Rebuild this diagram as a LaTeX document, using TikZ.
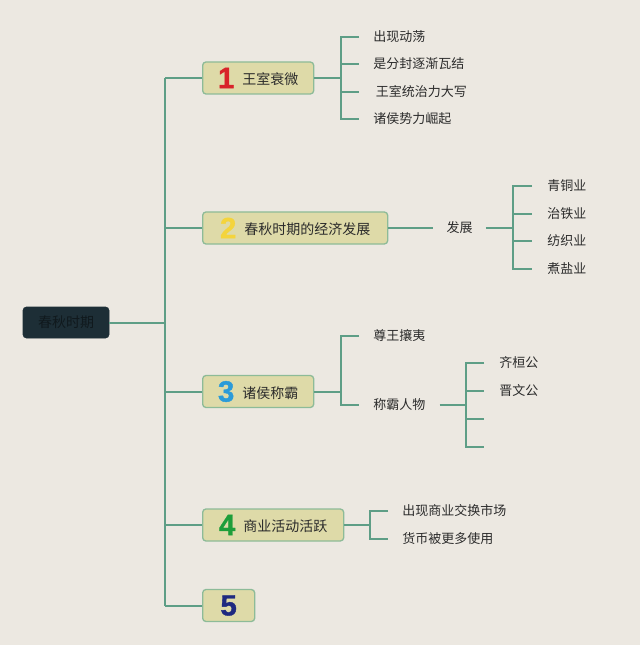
\documentclass[tikz,border=0pt]{standalone}
\usepackage{fontspec}
\newfontfamily\cjk{Noto Sans CJK SC}
\newfontfamily\numfont{Liberation Sans}[BoldFeatures={FakeBold=1.2}]
\definecolor{bg}{HTML}{ECE8E1}
\definecolor{ln}{HTML}{5E9E86}
\definecolor{boxfill}{HTML}{DEDAA8}
\definecolor{boxdraw}{HTML}{8DBB98}
\definecolor{rootfill}{HTML}{1D2E36}
\definecolor{roottext}{HTML}{10191D}
\definecolor{txt}{HTML}{2B2B2B}
\definecolor{nred}{HTML}{D8232A}
\definecolor{nyellow}{HTML}{F4D43C}
\definecolor{nblue}{HTML}{2A9BD9}
\definecolor{ngreen}{HTML}{1E9E3A}
\definecolor{nnavy}{HTML}{1F2A80}
\newcommand{\bnum}[2]{{\numfont\bfseries\fontsize{22}{22}\selectfont\textcolor{#1}{#2}}}
\newcommand{\btxt}[1]{\raisebox{2.5pt}{\cjk\fontsize{10.5}{12}\selectfont\textcolor{txt}{#1}}}
\begin{document}
\begin{tikzpicture}[x=0.75pt,y=-0.75pt,
  conn/.style={draw=ln,line width=1.5pt},
  rootbox/.style={rectangle,rounded corners=2.5pt,fill=rootfill,draw=rootfill,
    minimum width=64.5pt,minimum height=23.25pt,inner sep=0pt,
    font=\cjk\fontsize{10.5}{12}\selectfont,text=roottext},
  mainbox/.style={rectangle,rounded corners=2.5pt,fill=boxfill,draw=boxdraw,line width=1pt,
    minimum height=24pt,inner sep=0pt,anchor=west},
  leaf/.style={anchor=west,inner ysep=0pt,inner xsep=10.5pt,
    font=\cjk\fontsize{9.75}{11}\selectfont,text=txt},
  leafb/.style={leaf,inner xsep=11.25pt}]
\useasboundingbox[fill=bg] (0,0) rectangle (640,645);

% root
\node[rootbox] (root) at (66,322.5) {春秋时期};
\coordinate (trunk) at (165,322.5);
\coordinate (ttop) at (165,78);
\coordinate (tbot) at (165,605.5);

% main branches
\node[mainbox,minimum width=83.25pt] (b1) at (202,78) {\bnum{nred}{1}\hspace{6pt}\btxt{王室衰微}};
\node[mainbox,minimum width=138.75pt] (b2) at (202,228) {\bnum{nyellow}{2}\hspace{6pt}\btxt{春秋时期的经济发展}};
\node[mainbox,minimum width=83.25pt] (b3) at (202,391.5) {\bnum{nblue}{3}\hspace{6pt}\btxt{诸侯称霸}};
\node[mainbox,minimum width=105.75pt] (b4) at (202,525) {\bnum{ngreen}{4}\hspace{6pt}\btxt{商业活动活跃}};
\node[mainbox,minimum width=39pt] (b5) at (202,605.5) {\bnum{nnavy}{5}};

\draw[conn] (root.east) -- (trunk);
\draw[conn] (ttop) -- (tbot);
\foreach \b in {b1,b2,b3,b4,b5} \draw[conn] (\b.west) -- (\b.west -| trunk);

% branch 1
\coordinate (j1) at (341,78);
\node[leaf] (l11) at (359,37) {出现动荡};
\node[leaf] (l12) at (359,64) {是分封逐渐瓦结};
\node[leaf] (l13) at (359,92) {\hspace{2pt}王室统治力大写};
\node[leaf] (l14) at (359,119) {诸侯势力崛起};
\draw[conn] (b1.east) -- (j1);
\draw[conn] (l11.west) -| (j1) |- (l14.west);
\draw[conn] (j1 |- l12.west) -- (l12.west);
\draw[conn] (j1 |- l13.west) -- (l13.west);

% branch 2
\node[anchor=center,inner sep=0pt,minimum width=39pt,minimum height=16pt,
  font=\cjk\fontsize{9.75}{11}\selectfont,text=txt] (fz) at (459.5,228) {发展};
\coordinate (j2) at (513,228);
\node[leafb] (l21) at (532,186) {青铜业};
\node[leafb] (l22) at (532,214) {治铁业};
\node[leafb] (l23) at (532,241) {纺织业};
\node[leafb] (l24) at (532,269) {煮盐业};
\draw[conn] (b2.east) -- (fz.west);
\draw[conn] (fz.east) -- (j2);
\draw[conn] (l21.west) -| (j2) |- (l24.west);
\draw[conn] (j2 |- l22.west) -- (l22.west);
\draw[conn] (j2 |- l23.west) -- (l23.west);

% branch 3
\coordinate (j3) at (341,391.5);
\node[leaf] (l31) at (359,336) {尊王攘夷};
\node[leaf] (l32) at (359,405) {称霸人物};
\draw[conn] (b3.east) -- (j3);
\draw[conn] (l31.west) -| (j3) |- (l32.west);
\coordinate (j32) at (466,405);
\node[leafb] (l321) at (484,363) {齐桓公};
\node[leafb] (l322) at (484,391) {晋文公};
\coordinate (l323) at (484,419);
\coordinate (l324) at (484,447);
\draw[conn] (l32.east) -- (j32);
\draw[conn] (l321.west) -| (j32) |- (l324);
\draw[conn] (j32 |- l322.west) -- (l322.west);
\draw[conn] (j32 |- l323) -- (l323);

% branch 4
\coordinate (j4) at (370,525);
\node[leaf] (l41) at (388,511) {出现商业交换市场};
\node[leaf] (l42) at (388,539) {货币被更多使用};
\draw[conn] (b4.east) -- (j4);
\draw[conn] (l41.west) -| (j4) |- (l42.west);
\end{tikzpicture}
\end{document}
